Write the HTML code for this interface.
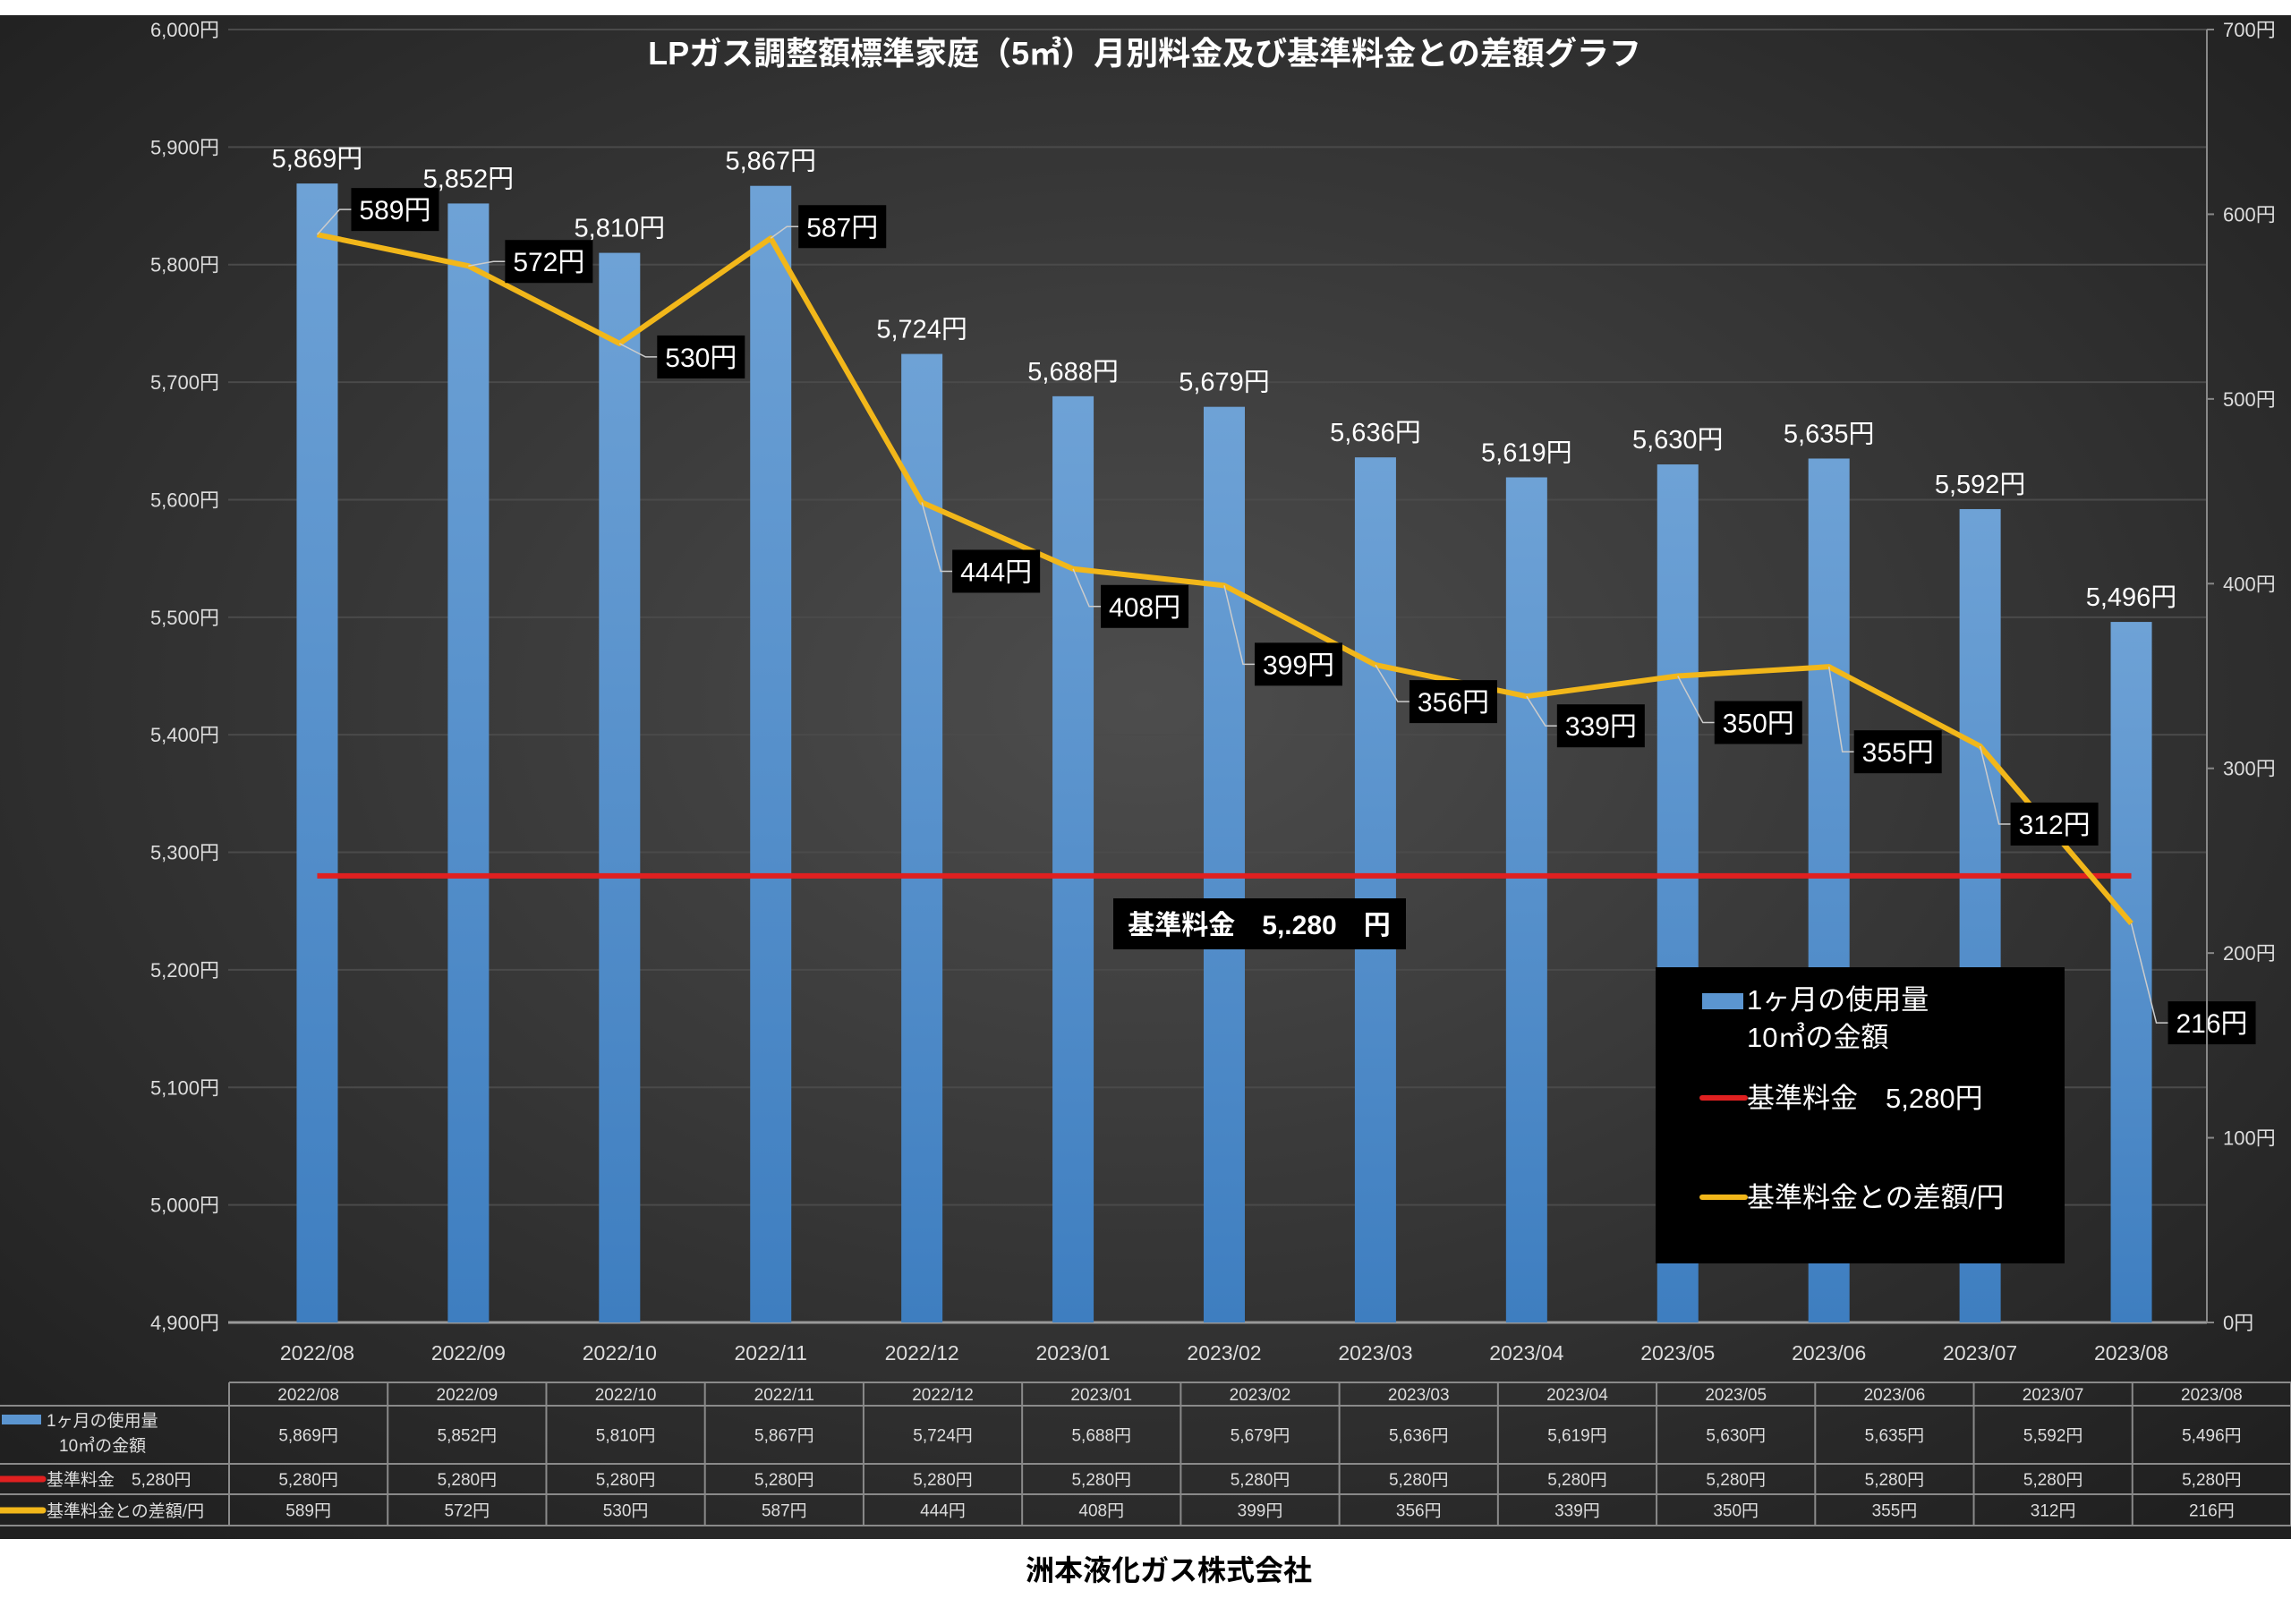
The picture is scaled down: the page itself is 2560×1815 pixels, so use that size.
<!DOCTYPE html>
<html><head><meta charset="utf-8"><style>
html,body{margin:0;padding:0;background:#fff;}
body{width:2560px;height:1810px;overflow:hidden;font-family:"Liberation Sans","Noto Sans CJK JP",sans-serif;}
svg text{font-family:"Liberation Sans","Noto Sans CJK JP",sans-serif;}
</style></head><body>
<svg id="chart" width="2560" height="1810" xmlns="http://www.w3.org/2000/svg">
<defs>
<radialGradient id="bg" cx="0.5" cy="0.45" r="0.7">
<stop offset="0" stop-color="#4d4d4d"/><stop offset="1" stop-color="#202020"/>
</radialGradient>
<linearGradient id="barg" x1="0" y1="0" x2="0" y2="1">
<stop offset="0" stop-color="#6ea2d6"/><stop offset="1" stop-color="#3e7ec0"/>
</linearGradient>
</defs>
<rect x="0" y="17" width="2560" height="1703" fill="url(#bg)"/>
<g id="grid"></g><g id="bars"></g><g id="lines"></g><g id="labels"></g><g id="axes"></g><g id="table"></g>
<text x="1279" y="72" fill="#fff" font-size="36" font-weight="bold" text-anchor="middle">LPガス調整額標準家庭（5㎥）月別料金及び基準料金との差額グラフ</text>
<g>
<rect x="1244" y="1004" width="327" height="57" fill="#000"/>
<text x="1407" y="1044" fill="#fff" font-size="30" font-weight="bold" text-anchor="middle">基準料金　5,.280　円</text>
</g>
<g>
<rect x="1850" y="1081" width="457" height="331" fill="#000"/>
<rect x="1902" y="1110" width="46" height="18" fill="#5b95d0"/>
<text x="1952" y="1128" fill="#fff" font-size="31">1ヶ月の使用量</text>
<text x="1952" y="1170" fill="#fff" font-size="31">10㎥の金額</text>
<line x1="1902" y1="1227" x2="1950" y2="1227" stroke="#e02020" stroke-width="6" stroke-linecap="round"/>
<text x="1952" y="1238" fill="#fff" font-size="31">基準料金　5,280円</text>
<line x1="1902" y1="1338" x2="1950" y2="1338" stroke="#f2b71a" stroke-width="6" stroke-linecap="round"/>
<text x="1952" y="1349" fill="#fff" font-size="31">基準料金との差額/円</text>
</g>
<text x="1306" y="1766" fill="#000" font-size="32" font-weight="bold" text-anchor="middle">洲本液化ガス株式会社</text>
</svg>
<script>
const categories=["2022/08","2022/09","2022/10","2022/11","2022/12","2023/01","2023/02","2023/03","2023/04","2023/05","2023/06","2023/07","2023/08"];
const monthlyFee=[5869,5852,5810,5867,5724,5688,5679,5636,5619,5630,5635,5592,5496];
const baseFee=[5280,5280,5280,5280,5280,5280,5280,5280,5280,5280,5280,5280,5280];
const difference=[589,572,530,587,444,408,399,356,339,350,355,312,216];
const leftTicks=[4900,5000,5100,5200,5300,5400,5500,5600,5700,5800,5900,6000];
const rightTicks=[0,100,200,300,400,500,600,700];
const diffLabelOffsets=[[87,-28],[90,-5],[91,15],[80,-13],[83,77],[80,42],[83,88],[87,41],[83,33],[90,52],[77,95],[83,87],[90,111]];

const NS="http://www.w3.org/2000/svg";
const PL=270,PR=2466,PT=33,PB=1478;
const bw=(PR-PL)/categories.length;
const xAt=i=>PL+bw*(i+0.5);
const yL=v=>PB-(v-4900)/(6000-4900)*(PB-PT);
const yR=v=>PB-v/700*(PB-PT);
const fmt=v=>v.toLocaleString("en-US");
function mk(tag,attrs,parent,text){const e=document.createElementNS(NS,tag);for(const k in attrs)e.setAttribute(k,attrs[k]);if(text!==undefined)e.textContent=text;parent.appendChild(e);return e;}
const G=id=>document.getElementById(id);

leftTicks.forEach(t=>{
  const l=mk("line",{x1:PL-15,x2:PR,y1:yL(t),y2:yL(t),stroke:t===4900?"#999":"#4a4a4a","stroke-width":t===4900?3:2},G("grid"));
  
  
  const tx=mk("text",{x:245,y:yL(t)+8,fill:"#ddd","font-size":22,"text-anchor":"end"},G("axes"),fmt(t)+"円");
  
  
});
const ra=mk("line",{x1:PR,x2:PR,y1:PT,y2:PB,stroke:"#888","stroke-width":2},G("axes"));


rightTicks.forEach(t=>{
  mk("line",{x1:PR,x2:PR+8,y1:yR(t),y2:yR(t),stroke:"#888","stroke-width":2},G("axes"));
  const tx=mk("text",{x:2484,y:yR(t)+8,fill:"#ddd","font-size":22},G("axes"),t+"円");
  
  
});
categories.forEach((c,i)=>{
  const x=xAt(i);
  const b=mk("rect",{x:x-23,y:yL(monthlyFee[i]),width:46,height:PB-yL(monthlyFee[i]),fill:"url(#barg)"},G("bars"));
  
  
  const bl=mk("text",{x:x,y:yL(monthlyFee[i])-18,fill:"#fff","font-size":29,"text-anchor":"middle"},G("labels"),fmt(monthlyFee[i])+"円");
  
  
  const cl=mk("text",{x:x,y:1520,fill:"#ddd","font-size":23,"text-anchor":"middle"},G("axes"),c);
  
  
});
// red base line
const rl=mk("polyline",{points:baseFee.map((v,i)=>xAt(i)+","+yL(v)).join(" "),fill:"none",stroke:"#e02020","stroke-width":6},G("lines"));


const yl=mk("polyline",{points:difference.map((v,i)=>xAt(i)+","+yR(v)).join(" "),fill:"none",stroke:"#f2b71a","stroke-width":6,"stroke-linejoin":"round"},G("lines"));


difference.forEach((v,i)=>{
  const px=xAt(i),py=yR(v),o=diffLabelOffsets[i];
  const cx=px+o[0],cy=py+o[1];
  mk("polyline",{points:`${px},${py} ${cx-62},${cy} ${cx-49},${cy}`,fill:"none",stroke:"#ccc","stroke-width":1.5},G("labels"));
  const r=mk("rect",{x:cx-49,y:cy-24,width:98,height:48,fill:"#000"},G("labels"));
  
  
  const t=mk("text",{x:cx,y:cy+11,fill:"#fff","font-size":30,"text-anchor":"middle"},G("labels"),v+"円");
  
  
});
// data table
const TL=256,TW=(2560-TL)/13,rows=[1545,1571,1636,1670,1705];
const tb=G("table");
rows.forEach(y=>mk("line",{x1:y===1545?TL:0,x2:2560,y1:y,y2:y,stroke:"#8a8a8a","stroke-width":2},tb));
for(let i=0;i<=13;i++)mk("line",{x1:TL+TW*i,x2:TL+TW*i,y1:1545,y2:1705,stroke:"#8a8a8a","stroke-width":2},tb);
const rowVals=[categories,monthlyFee.map(v=>fmt(v)+"円"),baseFee.map(v=>fmt(v)+"円"),difference.map(v=>v+"円")];
rowVals.forEach((arr,r)=>{
  const cy=(rows[r]+rows[r+1])/2+7;
  arr.forEach((s,i)=>{
    const t=mk("text",{x:TL+TW*(i+0.5),y:cy,fill:"#ddd","font-size":19,"text-anchor":"middle"},tb,s);
    
    
  });
});
mk("rect",{x:2,y:1581,width:44,height:11,fill:"#5b95d0"},tb);
mk("text",{x:52,y:1594,fill:"#ddd","font-size":19},tb,"1ヶ月の使用量");
mk("text",{x:66,y:1622,fill:"#ddd","font-size":19},tb,"10㎥の金額");
mk("line",{x1:0,x2:48,y1:1653,y2:1653,stroke:"#e02020","stroke-width":7,"stroke-linecap":"round"},tb);
mk("text",{x:52,y:1660,fill:"#ddd","font-size":19},tb,"基準料金　5,280円");
mk("line",{x1:0,x2:48,y1:1688,y2:1688,stroke:"#f2b71a","stroke-width":7,"stroke-linecap":"round"},tb);
mk("text",{x:52,y:1695,fill:"#ddd","font-size":19},tb,"基準料金との差額/円");
</script>
</body></html>
